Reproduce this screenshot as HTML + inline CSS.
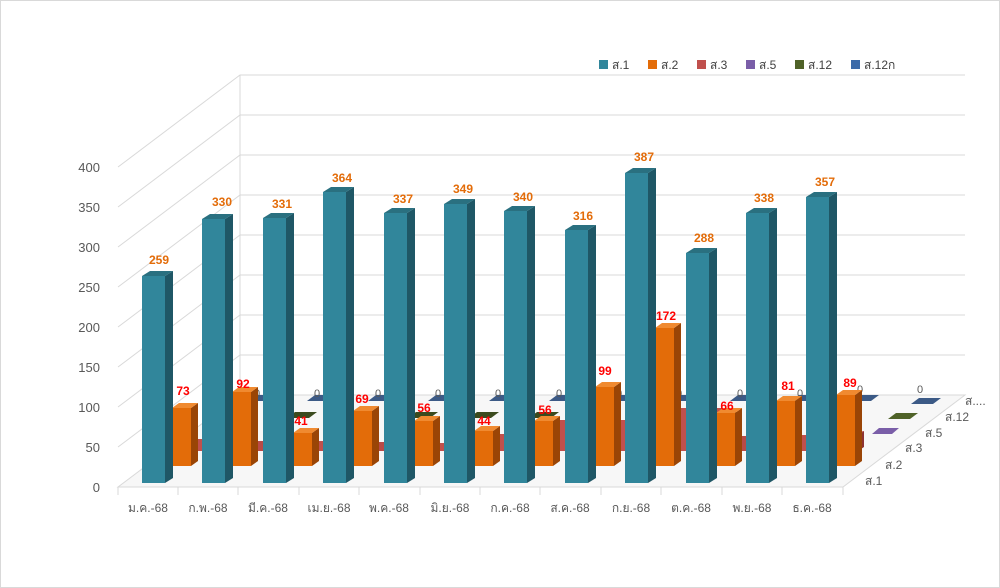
<!DOCTYPE html>
<html><head><meta charset="utf-8"><style>
body{margin:0;background:#fff;}
svg{display:block;font-family:"Liberation Sans",sans-serif;}
.t{font-family:"Liberation Sans","Noto Sans CJK SC",sans-serif;}
</style></head><body>
<svg width="1000" height="588" viewBox="0 0 1000 588" xmlns="http://www.w3.org/2000/svg">
<rect x="0.5" y="0.5" width="999" height="587" fill="#fff" stroke="#d9d9d9"/>
<!-- floor -->
<polygon points="118,487 843,487 965,395 240,395" fill="#f7f7f7" stroke="#d9d9d9"/>
<g stroke="#d9d9d9" stroke-width="1" fill="none">
<polyline points="118,447 240,355 965,355"/>
<polyline points="118,407 240,315 965,315"/>
<polyline points="118,367 240,275 965,275"/>
<polyline points="118,327 240,235 965,235"/>
<polyline points="118,287 240,195 965,195"/>
<polyline points="118,247 240,155 965,155"/>
<polyline points="118,207 240,115 965,115"/>
<polyline points="118,167 240,75 965,75"/>
<line x1="240" y1="395" x2="240" y2="75"/>
<line x1="118" y1="487" x2="118" y2="495"/>
<line x1="178" y1="487" x2="178" y2="495"/><line x1="238" y1="487" x2="238" y2="495"/>
<line x1="299" y1="487" x2="299" y2="495"/><line x1="359" y1="487" x2="359" y2="495"/>
<line x1="420" y1="487" x2="420" y2="495"/><line x1="480" y1="487" x2="480" y2="495"/>
<line x1="540" y1="487" x2="540" y2="495"/><line x1="601" y1="487" x2="601" y2="495"/>
<line x1="661" y1="487" x2="661" y2="495"/><line x1="722" y1="487" x2="722" y2="495"/>
<line x1="782" y1="487" x2="782" y2="495"/><line x1="843" y1="487" x2="843" y2="495"/>
</g>
<!-- y labels -->
<g font-size="13" fill="#595959" text-anchor="end">
<text x="100" y="492">0</text><text x="100" y="452">50</text><text x="100" y="412">100</text>
<text x="100" y="372">150</text><text x="100" y="332">200</text><text x="100" y="292">250</text>
<text x="100" y="252">300</text><text x="100" y="212">350</text><text x="100" y="172">400</text>
</g>
<!-- depth labels -->
<g class="t" font-size="12" fill="#595959">
<text x="865" y="485">ส.1</text><text x="885" y="469">ส.2</text><text x="905" y="452">ส.3</text>
<text x="925" y="437">ส.5</text><text x="945" y="421">ส.12</text><text x="965" y="405">ส....</text>
</g>
<!-- flat series: s.12n, s.12, s.5 -->
<g fill="#3c5a86">
<polygon points="247,401 267,401 275,395 255,395"/><polygon points="307,401 327,401 335,395 315,395"/>
<polygon points="368,401 388,401 396,395 376,395"/><polygon points="428,401 448,401 456,395 436,395"/>
<polygon points="489,401 509,401 517,395 497,395"/><polygon points="549,401 569,401 577,395 557,395"/>
<polygon points="609,401 629,401 637,395 617,395"/><polygon points="670,401 690,401 698,395 678,395"/>
<polygon points="730,401 750,401 758,395 738,395"/><polygon points="791,401 811,401 819,395 799,395"/>
<polygon points="851,401 871,401 879,395 859,395"/><polygon points="911,404 933,404 941,398 919,398"/>
</g>
<g fill="#3b4a1e">
<polygon points="227,418 249,418 257,412 235,412"/><polygon points="287,418 309,418 317,412 295,412"/>
<polygon points="348,418 370,418 378,412 356,412"/><polygon points="408,418 430,418 438,412 416,412"/>
<polygon points="469,418 491,418 499,412 477,412"/><polygon points="529,418 551,418 559,412 537,412"/>
<polygon points="589,418 611,418 619,412 597,412"/><polygon points="650,418 672,418 680,412 658,412"/>
<polygon points="710,418 732,418 740,412 718,412"/><polygon points="771,418 793,418 801,412 779,412"/>
<polygon points="888,419 910,419 918,413 896,413" fill="#4f6228"/>
</g>
<polygon points="872,434 892,434 899,428 879,428" fill="#7a5ea8"/>
<!-- zero labels -->
<g font-size="11" fill="#595959" text-anchor="middle">
<text x="257" y="397">0</text><text x="317" y="397">0</text><text x="378" y="397">0</text>
<text x="438" y="397">0</text><text x="498" y="397">0</text><text x="559" y="397">0</text>
<text x="619" y="397">0</text><text x="679" y="397">0</text><text x="740" y="397">0</text>
<text x="800" y="397">0</text><text x="860" y="393">0</text><text x="920" y="393">0</text>
</g>
<!-- red s.3 -->
<g>
<rect x="194" y="439" width="60" height="12" fill="#c0504d"/>
<rect x="254" y="441" width="60" height="10" fill="#b94a47"/>
<rect x="314" y="441" width="60" height="10" fill="#c0504d"/>
<rect x="374" y="442" width="60" height="9" fill="#b94a47"/>
<rect x="434" y="443" width="60" height="8" fill="#c0504d"/>
<rect x="494" y="434" width="60" height="17" fill="#c0504d"/>
<rect x="554" y="420" width="60" height="31" fill="#c0504d"/>
<rect x="614" y="420" width="60" height="31" fill="#c0504d"/>
<rect x="674" y="408" width="60" height="43" fill="#c0504d"/>
<rect x="734" y="436" width="60" height="15" fill="#b94a47"/>
<rect x="794" y="435" width="64" height="16" fill="#c0504d"/>
<polygon points="858,451 864,447 864,431 858,435" fill="#8e3331"/>
<polygon points="854,435 858,435 864,431 860,431" fill="#d56f6c"/>
</g>
<!-- orange s.2 -->
<g id="or">
<g fill="#e36c09">
<rect x="172" y="408" width="19" height="58"/><rect x="232" y="392" width="19" height="74"/>
<rect x="293" y="433" width="19" height="33"/><rect x="353" y="411" width="19" height="55"/>
<rect x="414" y="421" width="19" height="45"/><rect x="474" y="431" width="19" height="35"/>
<rect x="534" y="421" width="19" height="45"/><rect x="595" y="387" width="19" height="79"/>
<rect x="655" y="328" width="19" height="138"/><rect x="716" y="413" width="19" height="53"/>
<rect x="776" y="401" width="19" height="65"/><rect x="836" y="395" width="19" height="71"/>
</g>
<g fill="#9a4506">
<polygon points="191,408 198,403 198,461 191,466"/><polygon points="251,392 258,387 258,461 251,466"/>
<polygon points="312,433 319,428 319,461 312,466"/><polygon points="372,411 379,406 379,461 372,466"/>
<polygon points="433,421 440,416 440,461 433,466"/><polygon points="493,431 500,426 500,461 493,466"/>
<polygon points="553,421 560,416 560,461 553,466"/><polygon points="614,387 621,382 621,461 614,466"/>
<polygon points="674,328 681,323 681,461 674,466"/><polygon points="735,413 742,408 742,461 735,466"/>
<polygon points="795,401 802,396 802,461 795,466"/><polygon points="855,395 862,390 862,461 855,466"/>
</g>
<g fill="#f08a30">
<polygon points="172,408 191,408 198,403 179,403"/><polygon points="232,392 251,392 258,387 239,387"/>
<polygon points="293,433 312,433 319,428 300,428"/><polygon points="353,411 372,411 379,406 360,406"/>
<polygon points="414,421 433,421 440,416 421,416"/><polygon points="474,431 493,431 500,426 481,426"/>
<polygon points="534,421 553,421 560,416 541,416"/><polygon points="595,387 614,387 621,382 602,382"/>
<polygon points="655,328 674,328 681,323 662,323"/><polygon points="716,413 735,413 742,408 723,408"/>
<polygon points="776,401 795,401 802,396 783,396"/><polygon points="836,395 855,395 862,390 843,390"/>
</g>
</g>
<!-- blue s.1 -->
<g fill="#31869b">
<rect x="142" y="276" width="23" height="207"/><rect x="202" y="219" width="23" height="264"/>
<rect x="263" y="218" width="23" height="265"/><rect x="323" y="192" width="23" height="291"/>
<rect x="384" y="213" width="23" height="270"/><rect x="444" y="204" width="23" height="279"/>
<rect x="504" y="211" width="23" height="272"/><rect x="565" y="230" width="23" height="253"/>
<rect x="625" y="173" width="23" height="310"/><rect x="686" y="253" width="23" height="230"/>
<rect x="746" y="213" width="23" height="270"/><rect x="806" y="197" width="23" height="286"/>
</g>
<g fill="#1f5766">
<polygon points="165,276 173,271 173,478 165,483"/><polygon points="225,219 233,214 233,478 225,483"/>
<polygon points="286,218 294,213 294,478 286,483"/><polygon points="346,192 354,187 354,478 346,483"/>
<polygon points="407,213 415,208 415,478 407,483"/><polygon points="467,204 475,199 475,478 467,483"/>
<polygon points="527,211 535,206 535,478 527,483"/><polygon points="588,230 596,225 596,478 588,483"/>
<polygon points="648,173 656,168 656,478 648,483"/><polygon points="709,253 717,248 717,478 709,483"/>
<polygon points="769,213 777,208 777,478 769,483"/><polygon points="829,197 837,192 837,478 829,483"/>
</g>
<g fill="#2a7080">
<polygon points="142,276 165,276 173,271 150,271"/><polygon points="202,219 225,219 233,214 210,214"/>
<polygon points="263,218 286,218 294,213 271,213"/><polygon points="323,192 346,192 354,187 331,187"/>
<polygon points="384,213 407,213 415,208 392,208"/><polygon points="444,204 467,204 475,199 452,199"/>
<polygon points="504,211 527,211 535,206 512,206"/><polygon points="565,230 588,230 596,225 573,225"/>
<polygon points="625,173 648,173 656,168 633,168"/><polygon points="686,253 709,253 717,248 694,248"/>
<polygon points="746,213 769,213 777,208 754,208"/><polygon points="806,197 829,197 837,192 814,192"/>
</g>
<!-- blue labels -->
<g font-size="12" font-weight="bold" fill="#e36c09" text-anchor="middle">
<text x="159" y="264">259</text><text x="222" y="206">330</text><text x="282" y="208">331</text>
<text x="342" y="182">364</text><text x="403" y="203">337</text><text x="463" y="193">349</text>
<text x="523" y="201">340</text><text x="583" y="220">316</text><text x="644" y="161">387</text>
<text x="704" y="242">288</text><text x="764" y="202">338</text><text x="825" y="186">357</text>
</g>
<!-- orange labels -->
<g font-size="12" font-weight="bold" fill="#ff0000" text-anchor="middle">
<text x="183" y="395">73</text><text x="243" y="388">92</text><text x="301" y="425">41</text>
<text x="362" y="403">69</text><text x="424" y="412">56</text><text x="484" y="425">44</text>
<text x="545" y="414">56</text><text x="605" y="375">99</text><text x="666" y="320">172</text>
<text x="727" y="410">66</text><text x="788" y="390">81</text><text x="850" y="387">89</text>
</g>
<!-- x labels -->
<g class="t" font-size="12" fill="#595959" text-anchor="middle">
<text x="148" y="512">ม.ค.-68</text><text x="208" y="512">ก.พ.-68</text><text x="268" y="512">มี.ค.-68</text>
<text x="329" y="512">เม.ย.-68</text><text x="389" y="512">พ.ค.-68</text><text x="450" y="512">มิ.ย.-68</text>
<text x="510" y="512">ก.ค.-68</text><text x="570" y="512">ส.ค.-68</text><text x="631" y="512">ก.ย.-68</text>
<text x="691" y="512">ต.ค.-68</text><text x="752" y="512">พ.ย.-68</text><text x="812" y="512">ธ.ค.-68</text>
</g>
<!-- legend -->
<g class="t" font-size="12" fill="#404040">
<rect x="599" y="60" width="9" height="9" fill="#31869b"/><text x="612" y="69">ส.1</text>
<rect x="648" y="60" width="9" height="9" fill="#e36c09"/><text x="661" y="69">ส.2</text>
<rect x="697" y="60" width="9" height="9" fill="#c0504d"/><text x="710" y="69">ส.3</text>
<rect x="746" y="60" width="9" height="9" fill="#7a5ea8"/><text x="759" y="69">ส.5</text>
<rect x="795" y="60" width="9" height="9" fill="#4f6228"/><text x="808" y="69">ส.12</text>
<rect x="851" y="60" width="9" height="9" fill="#3c6aa8"/><text x="864" y="69">ส.12ก</text>
</g>
</svg>
</body></html>
